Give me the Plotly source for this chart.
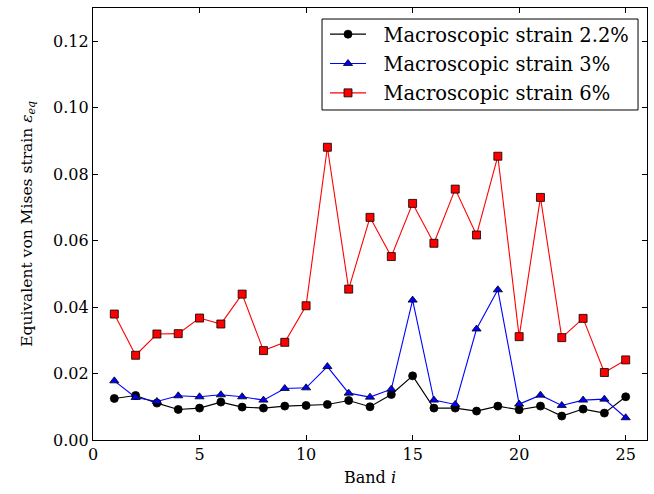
import plotly.graph_objects as go

bands = list(range(1, 26))
strain_2_2 = [0.0125, 0.0134, 0.0111, 0.0092, 0.0096, 0.0114, 0.0099, 0.0096, 0.0102, 0.0104,
              0.0107, 0.0119, 0.0100, 0.0137, 0.0193, 0.0096, 0.0096, 0.0087, 0.0102, 0.0091,
              0.0102, 0.0072, 0.0093, 0.0081, 0.0130]
strain_3 = [0.0178, 0.0128, 0.0116, 0.0133, 0.0130, 0.0136, 0.0130, 0.0120, 0.0155, 0.0157,
            0.0221, 0.0141, 0.0129, 0.0153, 0.0421, 0.0120, 0.0107, 0.0334, 0.0452, 0.0108,
            0.0135, 0.0104, 0.0120, 0.0123, 0.0067]
strain_6 = [0.0379, 0.0255, 0.0319, 0.0320, 0.0367, 0.0349, 0.0439, 0.0269, 0.0294, 0.0404,
            0.0881, 0.0454, 0.0670, 0.0552, 0.0712, 0.0592, 0.0755, 0.0617, 0.0854, 0.0311,
            0.0730, 0.0308, 0.0366, 0.0203, 0.0241]
names = ["Macroscopic strain 2.2%", "Macroscopic strain 3%", "Macroscopic strain 6%"]

FONT = "DejaVu Serif"
fig = go.Figure()
specs = [
    (strain_2_2, "black", "circle", "black"),
    (strain_3, "blue", "triangle-up", "blue"),
    (strain_6, "red", "square", "red"),
]
for i, ((vals, lc, sym, fc), nm) in enumerate(zip(specs, names)):
    fig.add_trace(go.Scatter(
        x=bands, y=vals, mode="lines+markers", name="\u00a0\u00a0" + nm, legendgroup=f"g{i}",
        line=dict(color=lc, width=1.1),
        marker=dict(symbol=sym, size=8, color=fc, line=dict(color="black", width=0.8)),
    ))

axis_common = dict(
    showline=True, mirror="ticks", linecolor="black", linewidth=1.2,
    ticks="inside", ticklen=5, tickcolor="black", tickwidth=1,
    showgrid=False, zeroline=False,
    tickfont=dict(family=FONT, size=16, color="black"),
)
fig.update_xaxes(range=[0, 26], tickvals=[0, 5, 10, 15, 20, 25],
                 title=dict(text="Band <i>i</i>", font=dict(family=FONT, size=16, color="black"), standoff=8),
                 **axis_common)
fig.update_yaxes(range=[0, 0.13], tickvals=[0, 0.02, 0.04, 0.06, 0.08, 0.10, 0.12], tickformat=".2f",
                 title=dict(text="Equivalent von Mises strain <i>ε<sub>eq</sub></i>",
                            font=dict(family=FONT, size=15.5, color="black"), standoff=16),
                 **axis_common)
# legend frame
fig.add_shape(type="rect", xref="paper", yref="paper",
              x0=0.4134, x1=0.9838, y0=0.7639, y1=0.9745,
              line=dict(color="black", width=1), fillcolor="white", layer="above")
fig.update_layout(
    width=654, height=494,
    margin=dict(l=93, r=7, t=8, b=54),
    paper_bgcolor="white", plot_bgcolor="white",
    font=dict(family=FONT, color="black"),
    legend=dict(x=0.4188, y=0.9838, xanchor="left", yanchor="top",
                borderwidth=0, bgcolor="rgba(0,0,0,0)",
                font=dict(family=FONT, size=19.5, color="black"),
                itemwidth=36, tracegroupgap=1),
    showlegend=True,
)
fig.write_html("out.html", config={"displayModeBar": False},
               post_script="document.body.style.margin='0px';")
